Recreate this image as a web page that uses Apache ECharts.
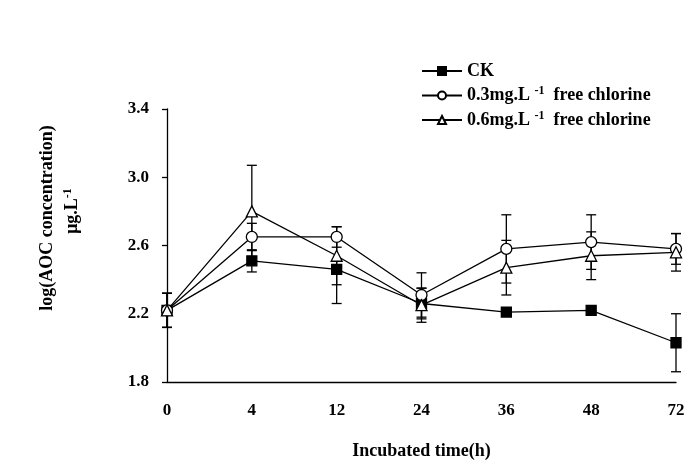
<!DOCTYPE html>
<html>
<head>
<meta charset="utf-8">
<script src="https://cdn.jsdelivr.net/npm/echarts@6/dist/echarts.min.js"></script>
<style>
  html, body { margin: 0; padding: 0; background: #fff; }
  #chart { width: 691px; height: 476px; }
</style>
</head>
<body>
<div id="chart"></div>
<script>
// 数据
var hours = ['0', '4', '12', '24', '36', '48', '72'];
var ckVals = [2.22, 2.51, 2.46, 2.26, 2.21, 2.22, 2.03];
var ckErr = [0.10, 0.065, 0.20, 0.09, 0.01, 0.01, 0.17];
var low03Vals = [2.22, 2.65, 2.65, 2.31, 2.58, 2.62, 2.58];
var low03Err = [0.10, 0.08, 0.06, 0.13, 0.20, 0.16, 0.09];
var high06Vals = [2.22, 2.80, 2.54, 2.25, 2.47, 2.54, 2.56];
var high06Err = [0.10, 0.27, 0.17, 0.10, 0.16, 0.14, 0.11];
var yTicks = [1.8, 2.2, 2.6, 3.0, 3.4];

var serif = 'Liberation Serif';

function errData(vals, errs) {
  return vals.map(function (v, i) { return [i, v - errs[i], v + errs[i]]; });
}

function errSeries(name, vals, errs) {
  return {
    name: name + '_err',
    type: 'custom',
    data: errData(vals, errs),
    z: 1,
    renderItem: function (params, api) {
      var idx = api.value(0);
      var lo = api.coord([idx, api.value(1)]);
      var hi = api.coord([idx, api.value(2)]);
      var w = 5;
      var st = { stroke: '#000', lineWidth: 1.3 };
      return {
        type: 'group',
        children: [
          { type: 'line', shape: { x1: hi[0], y1: hi[1], x2: lo[0], y2: lo[1] }, style: st },
          { type: 'line', shape: { x1: hi[0] - w, y1: hi[1], x2: hi[0] + w, y2: hi[1] }, style: st },
          { type: 'line', shape: { x1: lo[0] - w, y1: lo[1], x2: lo[0] + w, y2: lo[1] }, style: st }
        ]
      };
    }
  };
}

function lineSeries(name, vals, symbol, size, fill) {
  return {
    name: name,
    type: 'line',
    data: vals,
    symbol: symbol,
    symbolSize: size,
    z: 3,
    color: '#000',
    lineStyle: { color: '#000', width: 1.3 },
    itemStyle: { color: fill, borderColor: '#000', borderWidth: 1.3 }
  };
}

var names = ['CK', '0.3', '0.6'];

var myChart = echarts.init(document.getElementById('chart'));
var option = {
  animation: false,
  backgroundColor: '#fff',
  grid: { left: 167, top: 109, width: 509, height: 273 },
  legend: {
    data: names,
    orient: 'vertical',
    left: 416,
    top: 57,
    itemWidth: 40,
    itemHeight: 10,
    itemGap: 5,
    textStyle: {
      fontFamily: serif, fontWeight: 'bold', fontSize: 18, color: '#000',
      rich: {
        a: { fontFamily: serif, fontWeight: 'bold', fontSize: 18, color: '#000' },
        sup: { fontFamily: serif, fontWeight: 'bold', fontSize: 12, color: '#000', verticalAlign: 'top', padding: [0, 0, 9, 0] }
      }
    },
    formatter: function (n) {
      if (n === 'CK') return '{a|CK}';
      return '{a|' + n + 'mg.L }{sup|-1}{a|  free chlorine}';
    }
  },
  xAxis: {
    type: 'category',
    data: hours,
    boundaryGap: false,
    axisLine: { lineStyle: { color: '#000', width: 1.3 } },
    axisTick: { show: false },
    axisLabel: { margin: 20, fontFamily: serif, fontWeight: 'bold', fontSize: 17, color: '#000' },
    name: 'Incubated time(h)',
    nameLocation: 'middle',
    nameGap: 60,
    nameTextStyle: { fontFamily: serif, fontWeight: 'bold', fontSize: 18, color: '#000' }
  },
  yAxis: {
    type: 'value',
    min: yTicks[0],
    max: yTicks[yTicks.length - 1],
    interval: 0.4,
    splitLine: { show: false },
    axisLine: { show: true, lineStyle: { color: '#000', width: 1.3 } },
    axisTick: { show: true, length: 5, lineStyle: { color: '#000', width: 1.3 } },
    axisLabel: {
      margin: 18, fontFamily: serif, fontWeight: 'bold', fontSize: 17, color: '#000',
      formatter: function (v) { return v.toFixed(1); }
    }
  },
  graphic: [
    {
      type: 'text', x: 47, y: 218, rotation: Math.PI / 2,
      style: { text: 'log(AOC concentration)', fontFamily: serif, fontWeight: 'bold', fontSize: 18, fill: '#000', align: 'center', verticalAlign: 'middle' }
    },
    {
      type: 'text', x: 72, y: 211, rotation: Math.PI / 2,
      style: {
        text: '{a|μg.L}{sup|-1}',
        fill: '#000', align: 'center', verticalAlign: 'middle',
        rich: {
          a: { fontFamily: serif, fontWeight: 'bold', fontSize: 18, fill: '#000' },
          sup: { fontFamily: serif, fontWeight: 'bold', fontSize: 12, fill: '#000', verticalAlign: 'top', padding: [0, 0, 9, 0] }
        }
      }
    }
  ],
  series: [
    errSeries('CK', ckVals, ckErr),
    errSeries('0.3', low03Vals, low03Err),
    errSeries('0.6', high06Vals, high06Err),
    lineSeries('CK', ckVals, 'rect', 10, '#000'),
    lineSeries('0.3', low03Vals, 'circle', 11, '#fff'),
    lineSeries('0.6', high06Vals, 'triangle', 11, '#fff')
  ]
};
myChart.setOption(option);
</script>
</body>
</html>
